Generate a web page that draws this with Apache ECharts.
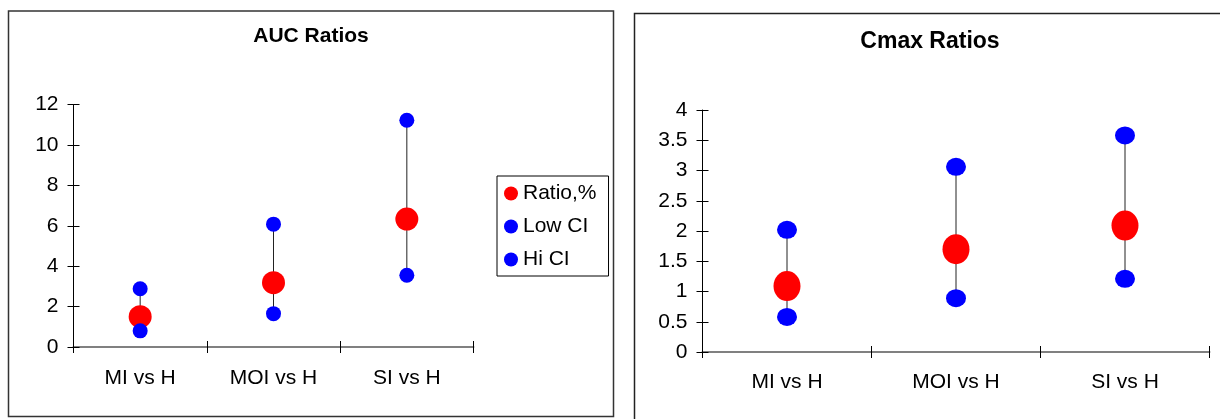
<!DOCTYPE html>
<html>
<head>
<meta charset="utf-8">
<script src="https://cdn.jsdelivr.net/npm/echarts@6/dist/echarts.min.js"></script>
<style>html,body{margin:0;padding:0;background:#fff}#c{width:1220px;height:419px}</style>
</head>
<body>
<div id="c"></div>
<script>
var categories = ['MI vs H', 'MOI vs H', 'SI vs H'];
var aucRatio = [1.5, 3.18, 6.33];
var aucLow = [0.8, 1.65, 3.55];
var aucHi = [2.88, 6.08, 11.22];
var cmaxRatio = [1.09, 1.70, 2.09];
var cmaxLow = [0.58, 0.89, 1.21];
var cmaxHi = [2.02, 3.06, 3.58];
var aucTicks = {min: 0, max: 12, interval: 2};
var cmaxTicks = {min: 0, max: 4, interval: 0.5};
var legendNames = ['Ratio,%', 'Low CI', 'Hi CI'];

var FONT = 'Liberation Sans, Arial, sans-serif';
var chart = echarts.init(document.getElementById('c'), null, {renderer: 'canvas'});

function xAxes(gi, inside) {
  return {
    type: 'category', data: categories, gridIndex: gi, position: 'bottom',
    boundaryGap: true,
    axisLine: {show: !inside, onZero: false, lineStyle: {color: '#808080', width: 2}},
    axisTick: {show: true, inside: inside, length: 6, lineStyle: {color: '#000', width: 1}},
    axisLabel: {show: !inside, margin: gi === 0 ? 21 : 20, fontSize: 21, color: '#000', fontFamily: FONT},
    splitLine: {show: false}
  };
}
function yAxes(gi, t, inside) {
  return {
    type: 'value', gridIndex: gi, position: 'left', min: t.min, max: t.max, interval: t.interval,
    axisLine: {show: !inside, onZero: false, lineStyle: {color: '#000', width: 1}},
    axisTick: {show: true, inside: inside, length: 6, lineStyle: {color: '#000', width: 1}},
    axisLabel: {show: !inside, margin: 15, fontSize: 21, color: '#000', fontFamily: FONT},
    splitLine: {show: false}
  };
}
function hiLow(gi, low, hi) {
  return {
    type: 'custom', xAxisIndex: gi, yAxisIndex: gi, z: 1, silent: true,
    data: categories.map(function (c, i) { return [i, low[i], hi[i]]; }),
    encode: {x: 0, y: [1, 2]},
    renderItem: function (params, api) {
      var p1 = api.coord([api.value(0), api.value(1)]);
      var p2 = api.coord([api.value(0), api.value(2)]);
      return {type: 'line', shape: {x1: p1[0], y1: p1[1], x2: p2[0], y2: p2[1]},
        style: {stroke: '#222', lineWidth: 1}};
    }
  };
}
function sc(gi, name, vals, color, size) {
  return {
    type: 'scatter', name: name, xAxisIndex: gi, yAxisIndex: gi, z: 3,
    data: vals, symbol: 'circle', symbolSize: size,
    itemStyle: {color: color, opacity: 1}
  };
}

var option = {
  animation: false,
  backgroundColor: '#fff',
  title: [
    {text: 'AUC Ratios', left: 311, top: 26, textAlign: 'center', padding: 0,
     textStyle: {fontFamily: FONT, fontWeight: 'bold', fontSize: 21, color: '#000'}},
    {text: 'Cmax Ratios', left: 930, top: 30, textAlign: 'center', padding: 0,
     textStyle: {fontFamily: FONT, fontWeight: 'bold', fontSize: 23, color: '#000'}}
  ],
  legend: {
    data: legendNames, orient: 'vertical', left: 497, top: 176,
    padding: [7, 12, 6, 7], itemGap: 12, itemWidth: 14, itemHeight: 14,
    icon: 'circle', borderColor: '#000', borderWidth: 1, backgroundColor: '#fff',
    selectedMode: false,
    textStyle: {fontFamily: FONT, fontSize: 21, color: '#000'}
  },
  graphic: [
    {type: 'rect', shape: {x: 8.5, y: 11, width: 605, height: 405.5},
     style: {fill: 'none', stroke: '#333', lineWidth: 1.5}, z: -1},
    {type: 'rect', shape: {x: 634.5, y: 13.5, width: 700, height: 500},
     style: {fill: 'none', stroke: '#222', lineWidth: 1.5}, z: -1}
  ],
  grid: [
    {left: 73.5, top: 104.5, width: 400, height: 242.5},
    {left: 702.5, top: 110, width: 507, height: 242}
  ],
  xAxis: [xAxes(0, false), xAxes(1, false), xAxes(0, true), xAxes(1, true)],
  yAxis: [yAxes(0, aucTicks, false), yAxes(1, cmaxTicks, false), yAxes(0, aucTicks, true), yAxes(1, cmaxTicks, true)],
  series: [
    hiLow(0, aucLow, aucHi),
    sc(0, legendNames[0], aucRatio, '#FF0000', 23),
    sc(0, legendNames[1], aucLow, '#0000FF', 15),
    sc(0, legendNames[2], aucHi, '#0000FF', 15),
    hiLow(1, cmaxLow, cmaxHi),
    sc(1, legendNames[0], cmaxRatio, '#FF0000', [27, 30]),
    sc(1, legendNames[1], cmaxLow, '#0000FF', [20, 18]),
    sc(1, legendNames[2], cmaxHi, '#0000FF', [20, 18])
  ]
};
chart.setOption(option);
</script>
</body>
</html>
